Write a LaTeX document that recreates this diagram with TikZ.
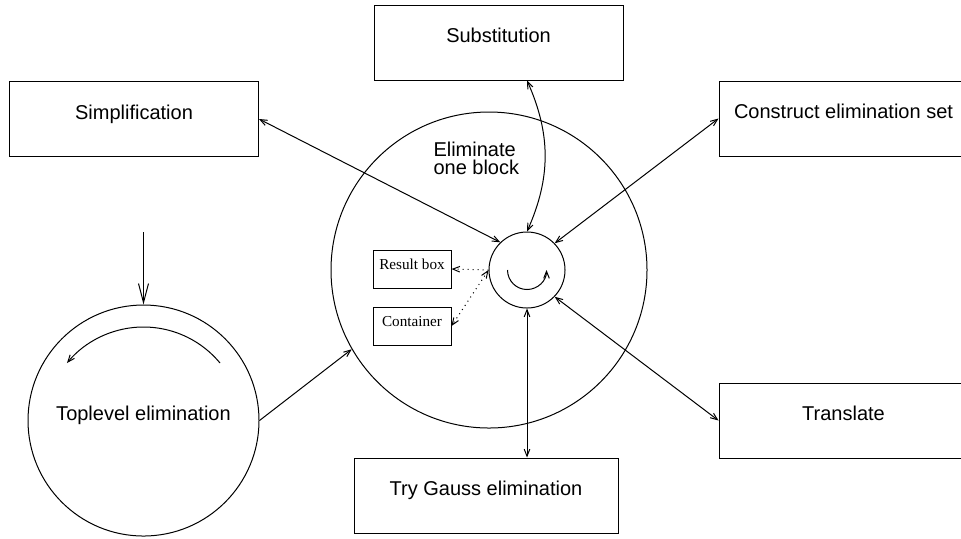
\documentclass[tikz,border=0pt]{standalone}
\usepackage{fontspec}
\setmainfont{Liberation Sans}
\newfontfamily\boxfont{Liberation Serif}
\usetikzlibrary{arrows.meta}

\begin{document}
\begin{tikzpicture}[
  x=0.5pt, y=-0.5pt, line width=0.5pt,
  box/.style={rectangle, draw=black, align=center, minimum width=124.5pt, minimum height=37.5pt, inner sep=0pt, text height=8pt, text depth=8pt},
  smallbox/.style={rectangle, draw=black, minimum width=39pt, minimum height=19pt, inner sep=0pt, font=\boxfont\fontsize{7.6}{9}\selectfont, text height=5pt, text depth=5pt},
  ring/.style={circle, draw=black, inner sep=0pt},
  tip/.tip={Straight Barb[length=3.5pt,width=2.8pt]},
  arrow/.style={tip-tip},
  onearrow/.style={-tip},
  bigarrow/.style={-{Straight Barb[length=9.5pt,width=5pt]}}
]
\clip (0,0) rectangle (961,538);

\node[box] (subst) at (498.5,42.5) {Substitution};
\node[box] (simp) at (134,119) {Simplification};
\node[box] (constr) at (843.5,118.5) {Construct elimination set};
\node[box] (transl) at (843.5,420.5) {Translate};
\node[box, minimum width=132pt] (gauss) at (486,495.5) {Try Gauss elimination};

\node[ring, minimum size=158pt] (block) at (489,270) {};
\node[align=left, anchor=north west, inner sep=0pt, font=\fontsize{10}{9}\selectfont] (blocktext) at (433,141.4) {Eliminate\\one block};
\node[ring, minimum size=38pt] (loop) at (527,270) {};
\node[smallbox] (result) at (412,269) {Result box};
\node[smallbox] (cont) at (412,326) {Container};

\node[ring, minimum size=115.5pt, text height=8pt, text depth=8pt] (top) at (143.5,420.5) {Toplevel elimination};
\coordinate (entry) at (143.5,232);

\draw[onearrow] ([xshift=-9.75pt]loop.center) arc[start angle=180, end angle=360, radius=9.75pt];
\draw[onearrow] ([shift={(38.25pt,28.75pt)}]top.center) arc[start angle=39.6, end angle=140.4, radius=49.65pt];

\draw[arrow] (simp.east) -- (loop.134);
\draw[arrow] (subst.south -| loop.north) to[bend left=24] (loop.north);
\draw[arrow] (constr.west) -- (loop.44);
\draw[arrow] (transl.west) -- (loop.-44);
\draw[arrow] (loop.south) -- (loop.south |- gauss.north);
\draw[onearrow, dotted] (loop.west) -- (result.east);
\draw[arrow, dotted] (loop.west) -- (cont.east);
\draw[onearrow] (top.east) -- (block.210.5);
\draw[bigarrow] (entry) -- (top.north);
\end{tikzpicture}
\end{document}
